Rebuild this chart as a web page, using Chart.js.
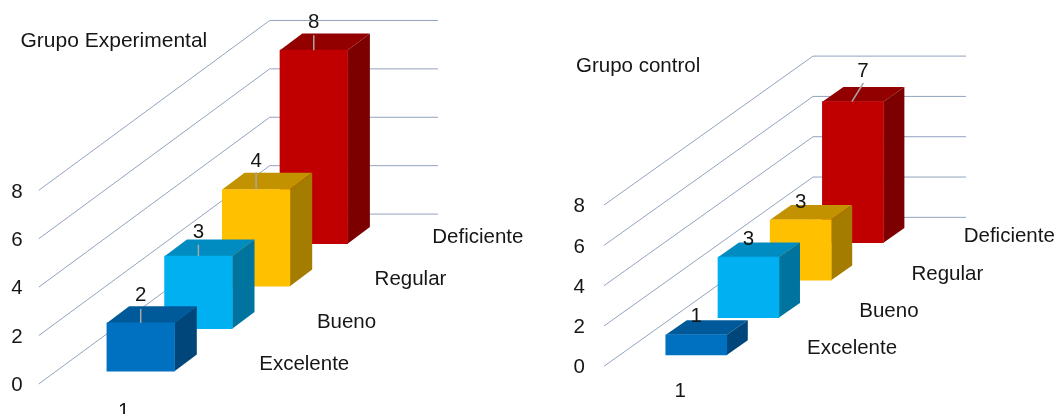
<!DOCTYPE html>
<html lang="es">
<head>
<meta charset="utf-8">
<title>Grupo Experimental y Grupo control</title>
<script src="https://cdn.jsdelivr.net/npm/chart.js@4/dist/chart.umd.min.js"></script>
<style>
  html, body { margin: 0; padding: 0; background: #fff; overflow: hidden; }
  canvas { position: absolute; top: 0; }
  #experimental { left: 0; }
  #control { left: 530px; }
</style>
</head>
<body>
<canvas id="experimental" width="530" height="414"></canvas>
<canvas id="control" width="528" height="414"></canvas>
<script>
const categorias = ["Excelente", "Bueno", "Regular", "Deficiente"];
const valoresExperimental = [2, 3, 4, 8];
const valoresControl = [1, 3, 3, 7];
const ticksY = [0, 2, 4, 6, 8];
const etiquetaX = "1";

const coloresFrente = ["#0070c0", "#00b0f0", "#ffc000", "#c00000"];
const coloresTapa = ["#005a9a", "#008cc0", "#c29200", "#920000"];
const coloresLado = ["#00467a", "#00739e", "#a37c00", "#7c0000"];

const FUENTE = '"Liberation Sans", Arial, sans-serif';
const COLOR_TEXTO = "#161616";
const COLOR_REJILLA = "#93a3bf";
const COLOR_GUIA = "#a6a6a6";
const AJUSTE_TEXTO = 1.5; // "middle" baseline sits a bit high for this font

// Geometry of each fake 3D panel (pixels inside its own canvas)
const disenoExperimental = {
    titulo: "Grupo Experimental", tituloX: 20.5, tituloY: 40, tamTitulo: 21,
    anchoEje: 38.7, padEje: 16, arriba: 20.7, abajo: 30, derecha: 92,
    maxY: 15.01, minX: -1.768, maxX: 5.153,
    baseY: 0.525, pasoBase: 1.756, grosor: 67.6,
    fondoX: 22.3, fondoY: 16.7, paredX: 231, paredY: 7.02,
    rotuloX: 152.3, rotuloY: -8, ejeXx: 123.7, ejeXy: 409.5,
    etiquetas: [[0, -29], [0, -25.7], [0, -30], [0, -29.7]],
    guias: [[0, -14], [0, -11.5], [0, -17], [0, -15]]
};
const disenoControl = {
    titulo: "Grupo control", tituloX: 46, tituloY: 65, tamTitulo: 20.5,
    anchoEje: 74, padEje: 19, arriba: 55.7, abajo: 47.7, derecha: 92,
    maxY: 15.41, minX: -1.768, maxX: 5.167,
    baseY: 0.56, pasoBase: 1.856, grosor: 61,
    fondoX: 21, fondoY: 14.7, paredX: 209, paredY: 7.39,
    rotuloX: 141.3, rotuloY: -7.7, ejeXx: 150.3, ejeXy: 389.7,
    etiquetas: [[0, -20], [0, -19.6], [0, -19.3], [10, -32]],
    guias: [null, null, null, [10.5, -18.7]]
};

function poligono(ctx, puntos, color) {
    ctx.fillStyle = color;
    ctx.beginPath();
    puntos.forEach((p, i) => i ? ctx.lineTo(p[0], p[1]) : ctx.moveTo(p[0], p[1]));
    ctx.closePath();
    ctx.fill();
}

// Walls, bar depth faces and the texts around the bars
const caja3d = {
    id: "caja3d",
    beforeDatasetsDraw(chart, args, opts) {
        const d = opts.diseno;
        const ctx = chart.ctx;
        const y = chart.scales.y;
        const area = chart.chartArea;
        const subida = y.getPixelForValue(0) - y.getPixelForValue(d.paredY);
        ctx.save();
        ctx.strokeStyle = COLOR_REJILLA;
        ctx.lineWidth = 1;
        ticksY.forEach(v => {
            const py = y.getPixelForValue(v);
            ctx.beginPath();
            ctx.moveTo(area.left, py);
            ctx.lineTo(area.left + d.paredX, py - subida);
            ctx.lineTo(area.right, py - subida);
            ctx.stroke();
        });
        ctx.restore();
    },
    beforeDatasetDraw(chart, args, opts) {
        const d = opts.diseno;
        const ctx = chart.ctx;
        const barra = chart.getDatasetMeta(args.index).data[0];
        const izq = barra.x - barra.width / 2;
        const der = barra.x + barra.width / 2;
        const fx = d.fondoX;
        const fy = d.fondoY;
        poligono(ctx, [[izq, barra.y], [izq + fx, barra.y - fy], [der + fx, barra.y - fy], [der, barra.y]], coloresTapa[args.index]);
        poligono(ctx, [[der, barra.y], [der + fx, barra.y - fy], [der + fx, barra.base - fy], [der, barra.base]], coloresLado[args.index]);
    },
    afterDatasetsDraw(chart, args, opts) {
        const d = opts.diseno;
        const ctx = chart.ctx;
        ctx.save();
        ctx.textBaseline = "middle";
        ctx.fillStyle = COLOR_TEXTO;
        chart.data.datasets.forEach((ds, i) => {
            const barra = chart.getDatasetMeta(i).data[0];
            const guia = d.guias[i];
            if (guia) {
                ctx.strokeStyle = COLOR_GUIA;
                ctx.lineWidth = 1.5;
                ctx.beginPath();
                ctx.moveTo(barra.x - (guia[0] ? 1 : 0), barra.y);
                ctx.lineTo(barra.x + guia[0], barra.y + guia[1]);
                ctx.stroke();
            }
            ctx.font = "20.5px " + FUENTE;
            ctx.textAlign = "center";
            ctx.fillText(String(ds.valor), barra.x + d.etiquetas[i][0], barra.y + d.etiquetas[i][1] + AJUSTE_TEXTO);
            ctx.textAlign = "left";
            ctx.fillText(categorias[i], barra.x - barra.width / 2 + d.rotuloX, barra.base + d.rotuloY + AJUSTE_TEXTO);
        });
        ctx.textAlign = "center";
        ctx.fillText(etiquetaX, d.ejeXx, d.ejeXy + AJUSTE_TEXTO);
        ctx.textAlign = "left";
        ctx.font = d.tamTitulo + "px " + FUENTE;
        ctx.fillText(d.titulo, d.tituloX, d.tituloY + AJUSTE_TEXTO);
        ctx.restore();
    }
};

function crearGrafico(idCanvas, valores, d) {
    const datasets = categorias.map((nombre, i) => {
        const base = d.baseY + d.pasoBase * i;
        return {
            label: nombre,
            valor: valores[i],
            data: [{ x: i, y: [base, base + valores[i]] }],
            backgroundColor: coloresFrente[i],
            borderWidth: 0,
            barThickness: d.grosor,
            grouped: false
        };
    });

    return new Chart(document.getElementById(idCanvas), {
        type: "bar",
        data: { datasets: datasets },
        plugins: [caja3d],
        options: {
            responsive: false,
            animation: false,
            layout: { padding: { left: 0, top: d.arriba, bottom: d.abajo, right: d.derecha } },
            plugins: {
                legend: { display: false },
                title: { display: false },
                tooltip: { enabled: false },
                caja3d: { diseno: d }
            },
            scales: {
                x: { type: "linear", display: false, offset: false, min: d.minX, max: d.maxX },
                y: {
                    min: 0,
                    max: d.maxY,
                    afterBuildTicks: scale => { scale.ticks = ticksY.map(v => ({ value: v })); },
                    afterFit: scale => {
                        scale.width = d.anchoEje;
                        scale.paddingTop = 0;
                        scale.paddingBottom = 0;
                    },
                    border: { display: false },
                    grid: { display: false, drawTicks: false },
                    ticks: {
                        padding: d.padEje,
                        labelOffset: AJUSTE_TEXTO,
                        color: COLOR_TEXTO,
                        font: { family: FUENTE, size: 20.5 },
                        callback: v => String(v)
                    }
                }
            }
        }
    });
}

crearGrafico("experimental", valoresExperimental, disenoExperimental);
crearGrafico("control", valoresControl, disenoControl);
</script>
</body>
</html>
